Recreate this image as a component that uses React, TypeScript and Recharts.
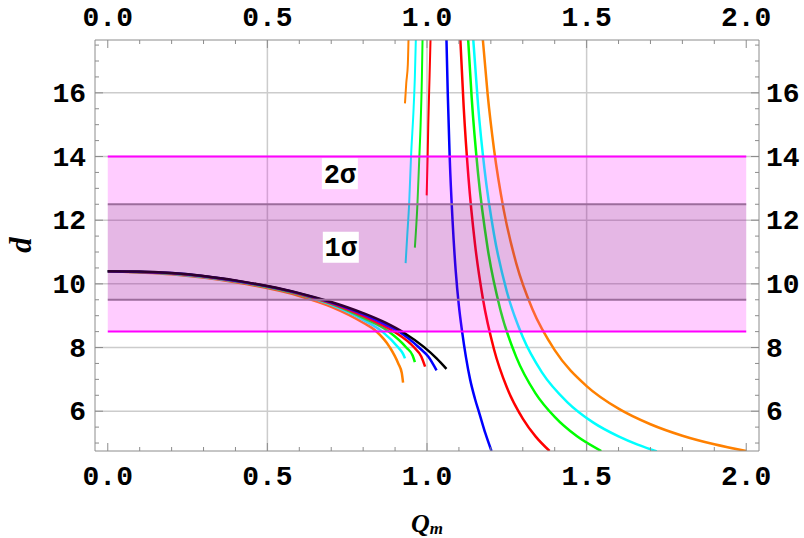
import { ComposedChart, Line, Area, XAxis, YAxis, ReferenceLine, ReferenceDot } from 'recharts';

type Pt = [number, number];

// axis ticks (minor + major) and labels
const qTicks = [0, 0.1, 0.2, 0.3, 0.4, 0.5, 0.6, 0.7, 0.8, 0.9, 1.0, 1.1, 1.2, 1.3, 1.4, 1.5, 1.6, 1.7, 1.8, 1.9, 2.0];
const qMajor = [0, 0.5, 1.0, 1.5, 2.0];
const dTicks = [5, 5.5, 6, 6.5, 7, 7.5, 8, 8.5, 9, 9.5, 10, 10.5, 11, 11.5, 12, 12.5, 13, 13.5, 14, 14.5, 15, 15.5, 16, 16.5, 17, 17.5];
const dMajor = [6, 8, 10, 12, 14, 16];
const qGrid = [0.5, 1.0, 1.5];

// observational bands, spanning Q = 0 .. 2
const bandQ = [0, 2];
const band2 = [8.5, 14];
const band1 = [9.5, 12.5];
const sigmaLabels = [
  { q: 0.727, d: 13.46, text: '2σ' },
  { q: 0.73, d: 11.15, text: '1σ' }
];

// lower branches (start at Q=0)
const blackLow: Pt[] = [[0, 10.4], [0.1, 10.39], [0.2, 10.34], [0.3, 10.25], [0.4, 10.11], [0.5, 9.93], [0.6, 9.71], [0.7, 9.43], [0.8, 9.08], [0.87, 8.78], [0.93, 8.45], [0.99, 8.02], [1.03, 7.66], [1.061, 7.33]];
const blueLow: Pt[] = [[0, 10.4], [0.2, 10.34], [0.4, 10.1], [0.6, 9.7], [0.7, 9.41], [0.8, 9.04], [0.87, 8.72], [0.915, 8.48], [0.975, 8.0], [1.005, 7.7], [1.03, 7.28]];
const redLow: Pt[] = [[0, 10.4], [0.2, 10.33], [0.4, 10.1], [0.6, 9.69], [0.7, 9.39], [0.8, 8.99], [0.86, 8.7], [0.9, 8.48], [0.96, 8.0], [0.982, 7.72], [0.994, 7.4]];
const greenLow: Pt[] = [[0, 10.4], [0.2, 10.33], [0.4, 10.09], [0.6, 9.68], [0.7, 9.37], [0.8, 8.93], [0.88, 8.5], [0.935, 8.0], [0.955, 7.75], [0.962, 7.54]];
const cyanLow: Pt[] = [[0, 10.4], [0.2, 10.32], [0.4, 10.08], [0.6, 9.67], [0.7, 9.34], [0.8, 8.87], [0.86, 8.5], [0.91, 8.0], [0.925, 7.8], [0.931, 7.66]];
const orangeLow: Pt[] = [[0, 10.4], [0.2, 10.3], [0.4, 10.05], [0.6, 9.62], [0.7, 9.28], [0.8, 8.78], [0.84, 8.52], [0.884, 8.0], [0.91, 7.5], [0.921, 7.2], [0.925, 6.9]];

// short upper branches near Q~1
const orangeUp: Pt[] = [[0.931, 15.67], [0.935, 16.3], [0.94, 16.9], [0.942, 17.66]];
const cyanUp: Pt[] = [[0.933, 10.65], [0.938, 11.5], [0.944, 12.5], [0.95, 14], [0.958, 15.5], [0.962, 16.5], [0.965, 17.66]];
const greenUp: Pt[] = [[0.962, 11.14], [0.97, 12.5], [0.976, 14], [0.98, 15], [0.984, 16.5], [0.986, 17.66]];
const redUp: Pt[] = [[0.999, 12.78], [1.002, 14], [1.004, 15], [1.008, 16.5], [1.011, 17.66]];

// right branches
const blueHigh: Pt[] = [[1.061, 17.66], [1.065, 16.0], [1.071, 14.0], [1.08, 12.0], [1.09, 10.4], [1.1, 9.3], [1.11, 8.5], [1.122, 7.7], [1.135, 7.0], [1.15, 6.4], [1.165, 5.9], [1.183, 5.3], [1.202, 4.75]];
const redHigh: Pt[] = [[1.1045, 17.66], [1.115, 15.54], [1.13, 13.33], [1.15, 11.28], [1.175, 9.54], [1.21, 7.94], [1.25, 6.75], [1.3, 5.77], [1.34, 5.21], [1.384, 4.75]];
const greenHigh: Pt[] = [[1.129, 17.66], [1.14, 15.84], [1.16, 13.46], [1.19, 11.12], [1.23, 9.18], [1.28, 7.69], [1.34, 6.56], [1.4, 5.82], [1.47, 5.21], [1.546, 4.75]];
const cyanHigh: Pt[] = [[1.145, 17.66], [1.16, 15.61], [1.18, 13.61], [1.21, 11.55], [1.25, 9.76], [1.3, 8.33], [1.36, 7.22], [1.44, 6.28], [1.52, 5.65], [1.6, 5.21], [1.66, 4.95], [1.72, 4.74]];
const orangeHigh: Pt[] = [[1.175, 17.66], [1.19, 15.95], [1.21, 14.22], [1.24, 12.34], [1.28, 10.63], [1.33, 9.21], [1.4, 7.92], [1.5, 6.79], [1.6, 6.08], [1.7, 5.59], [1.8, 5.23], [1.9, 4.96], [2.0, 4.75]];

const curves = [
  { id: 'blueHigh', pts: blueHigh, color: '#0000ff', w: 2.5 },
  { id: 'redHigh', pts: redHigh, color: '#ff0000', w: 2.5 },
  { id: 'greenHigh', pts: greenHigh, color: '#00ff00', w: 2.5 },
  { id: 'cyanHigh', pts: cyanHigh, color: '#00ffff', w: 2.5 },
  { id: 'orangeHigh', pts: orangeHigh, color: '#ff8000', w: 2.5 },
  { id: 'orangeUp', pts: orangeUp, color: '#ff8000', w: 2 },
  { id: 'cyanUp', pts: cyanUp, color: '#00ffff', w: 2 },
  { id: 'greenUp', pts: greenUp, color: '#00ff00', w: 2 },
  { id: 'redUp', pts: redUp, color: '#ff0000', w: 2 },
  { id: 'orangeLow', pts: orangeLow, color: '#ff8000', w: 2.5 },
  { id: 'cyanLow', pts: cyanLow, color: '#00ffff', w: 2.5 },
  { id: 'greenLow', pts: greenLow, color: '#00ff00', w: 2.5 },
  { id: 'redLow', pts: redLow, color: '#ff0000', w: 2.5 },
  { id: 'blueLow', pts: blueLow, color: '#0000ff', w: 2.5 },
  { id: 'blackLow', pts: blackLow, color: '#000000', w: 2.5 }
];

const tickFont = "'Liberation Mono', 'DejaVu Sans Mono', monospace";
const titleFont = "'Liberation Serif', 'DejaVu Serif', serif";
const frame = '#8c8c8c';

const isIn = (list: number[], v: number) => list.some((m) => Math.abs(m - v) < 1e-6);

function makeTick(side: 'bottom' | 'top' | 'left' | 'right') {
  return (props: any) => {
    const { x, y, payload } = props;
    const v = Number(payload.value);
    const horiz = side === 'bottom' || side === 'top';
    const major = horiz ? isIn(qMajor, v) : isIn(dMajor, v);
    const len = major ? 8 : 4;
    const txt = horiz ? v.toFixed(1) : String(v);
    const textProps = { fontFamily: tickFont, fontWeight: 700, fontSize: 28, fill: '#000' };
    let line;
    let label = null;
    if (side === 'bottom') {
      line = <line x1={x} y1={y} x2={x} y2={y - len} stroke={frame} />;
      if (major) label = <text x={x} y={y + 34} textAnchor="middle" {...textProps}>{txt}</text>;
    } else if (side === 'top') {
      line = <line x1={x} y1={y} x2={x} y2={y + len} stroke={frame} />;
      if (major) label = <text x={x} y={y - 14} textAnchor="middle" {...textProps}>{txt}</text>;
    } else if (side === 'left') {
      line = <line x1={x} y1={y} x2={x + len} y2={y} stroke={frame} />;
      if (major) label = <text x={x - 9} y={y + 9} textAnchor="end" {...textProps}>{txt}</text>;
    } else {
      line = <line x1={x} y1={y} x2={x - len} y2={y} stroke={frame} />;
      if (major) label = <text x={x + 7} y={y + 9} textAnchor="start" {...textProps}>{txt}</text>;
    }
    return (
      <g>
        {line}
        {label}
      </g>
    );
  };
}

const sigmaShape = (text: string) => (props: any) => {
  const { cx, cy } = props;
  return (
    <g>
      <rect x={cx - 18} y={cy - 15.5} width={36} height={31} fill="#ffffff" />
      <text x={cx} y={cy + 9} textAnchor="middle" fontFamily={tickFont} fontWeight={700} fontSize={27} fill="#000">
        {text}
      </text>
    </g>
  );
};

const toData = (pts: Pt[]) => pts.map(([q, d]) => ({ q, d }));
const bandData = (lo: number, hi: number) => bandQ.map((q) => ({ q, d: hi, lo }));
const edgeData = (v: number) => bandQ.map((q) => ({ q, d: v }));

export default function App() {
  const qDomain = [-0.04, 2.04];
  const dDomain = [4.75, 17.66];
  return (
    <div style={{ position: 'fixed', left: 0, top: 0, width: 804, height: 538, background: '#fff' }}>
      <ComposedChart width={804} height={538} margin={{ top: 0, right: 0, bottom: 0, left: 0 }}>
        <XAxis
          dataKey="q"
          type="number"
          domain={qDomain}
          allowDataOverflow
          ticks={qTicks}
          interval={0}
          height={87}
          tickSize={0}
          tickMargin={0}
          tickLine={false}
          axisLine={{ stroke: frame }}
          tick={makeTick('bottom')}
        />
        <XAxis
          xAxisId="top"
          orientation="top"
          dataKey="q"
          type="number"
          domain={qDomain}
          allowDataOverflow
          ticks={qTicks}
          interval={0}
          height={40}
          tickSize={0}
          tickMargin={0}
          tickLine={false}
          axisLine={{ stroke: frame }}
          tick={makeTick('top')}
        />
        <YAxis
          type="number"
          domain={dDomain}
          allowDataOverflow
          ticks={dTicks}
          interval={0}
          width={95}
          tickSize={0}
          tickMargin={0}
          tickLine={false}
          axisLine={{ stroke: frame }}
          tick={makeTick('left')}
        />
        <YAxis
          yAxisId="right"
          orientation="right"
          type="number"
          domain={dDomain}
          allowDataOverflow
          ticks={dTicks}
          interval={0}
          width={45}
          tickSize={0}
          tickMargin={0}
          tickLine={false}
          axisLine={{ stroke: frame }}
          tick={makeTick('right')}
        />

        {qGrid.map((v) => (
          <ReferenceLine key={'gx' + v} x={v} stroke="#cccccc" strokeWidth={1.5} zIndex={-100} />
        ))}
        {dMajor.map((v) => (
          <ReferenceLine key={'gy' + v} y={v} stroke="#cccccc" strokeWidth={1.5} zIndex={-100} />
        ))}

        {curves.map((c) => (
          <Line
            key={c.id}
            data={toData(c.pts)}
            dataKey="d"
            type="monotone"
            stroke={c.color}
            strokeWidth={c.w}
            dot={false}
            activeDot={false}
            isAnimationActive={false}
          />
        ))}

        <Area
          data={bandData(band2[0], band2[1])}
          dataKey="d"
          baseValue={band2[0]}
          type="linear"
          stroke="none"
          fill="#ff00ff"
          fillOpacity={0.2}
          dot={false}
          activeDot={false}
          isAnimationActive={false}
          zIndex={450}
        />
        <Area
          data={bandData(band1[0], band1[1])}
          dataKey="d"
          baseValue={band1[0]}
          type="linear"
          stroke="none"
          fill="#000000"
          fillOpacity={0.1}
          dot={false}
          activeDot={false}
          isAnimationActive={false}
          zIndex={451}
        />
        {band1.map((v) => (
          <Line
            key={'b1' + v}
            data={edgeData(v)}
            dataKey="d"
            type="linear"
            stroke="#9c6c9c"
            strokeWidth={2}
            dot={false}
            activeDot={false}
            isAnimationActive={false}
            zIndex={460}
          />
        ))}
        {band2.map((v) => (
          <Line
            key={'b2' + v}
            data={edgeData(v)}
            dataKey="d"
            type="linear"
            stroke="#ff00ff"
            strokeWidth={2}
            dot={false}
            activeDot={false}
            isAnimationActive={false}
            zIndex={461}
          />
        ))}
        {sigmaLabels.map((s) => (
          <ReferenceDot key={s.text} x={s.q} y={s.d} r={1} shape={sigmaShape(s.text)} zIndex={2000} />
        ))}
      </ComposedChart>
      <svg width={804} height={538} style={{ position: 'absolute', left: 0, top: 0, pointerEvents: 'none' }}>
        <text x={427} y={532} textAnchor="middle" fontFamily={titleFont} fontStyle="italic" fontWeight={700} fontSize={26} fill="#000">
          Q<tspan fontSize={17} dy={2}>m</tspan>
        </text>
        <text x={31} y={245} transform="rotate(-90 31 245)" textAnchor="middle" fontFamily={titleFont} fontStyle="italic" fontWeight={700} fontSize={31} fill="#000">
          d
        </text>
      </svg>
    </div>
  );
}
